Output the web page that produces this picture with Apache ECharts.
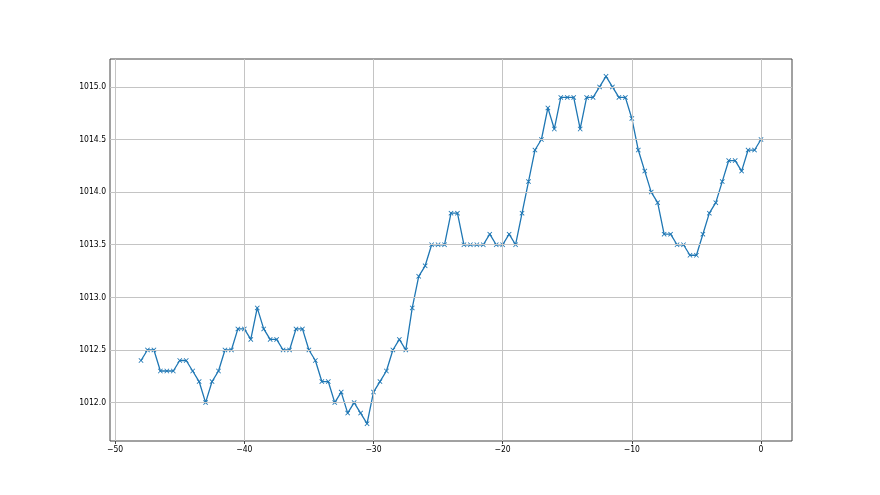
<!DOCTYPE html>
<html><head><meta charset="utf-8">
<script src="https://cdn.jsdelivr.net/npm/echarts@6/dist/echarts.min.js"></script>
<style>html,body{margin:0;padding:0;background:#fff}#c{width:880px;height:495px}</style>
</head><body><div id="c"></div>
<script>
const xStart = -48, xStep = 0.5;
const pressure = [
1012.4,1012.5,1012.5,1012.3,1012.3,1012.3,1012.4,1012.4,1012.3,1012.2,
1012.0,1012.2,1012.3,1012.5,1012.5,1012.7,1012.7,1012.6,1012.9,1012.7,
1012.6,1012.6,1012.5,1012.5,1012.7,1012.7,1012.5,1012.4,1012.2,1012.2,
1012.0,1012.1,1011.9,1012.0,1011.9,1011.8,1012.1,1012.2,1012.3,1012.5,
1012.6,1012.5,1012.9,1013.2,1013.3,1013.5,1013.5,1013.5,1013.8,1013.8,
1013.5,1013.5,1013.5,1013.5,1013.6,1013.5,1013.5,1013.6,1013.5,1013.8,
1014.1,1014.4,1014.5,1014.8,1014.6,1014.9,1014.9,1014.9,1014.6,1014.9,
1014.9,1015.0,1015.1,1015.0,1014.9,1014.9,1014.7,1014.4,1014.2,1014.0,
1013.9,1013.6,1013.6,1013.5,1013.5,1013.4,1013.4,1013.6,1013.8,1013.9,
1014.1,1014.3,1014.3,1014.2,1014.4,1014.4,1014.5];
const xTicks = [-50,-40,-30,-20,-10,0];
const yTicks = [1012.0,1012.5,1013.0,1013.5,1014.0,1014.5,1015.0];

const data = pressure.map((v,i)=>[xStart + i*xStep, v]);
const xs = data.map(d=>d[0]), ys = pressure;
const xr = Math.max(...xs)-Math.min(...xs), yr = Math.max(...ys)-Math.min(...ys);
const xMin = Math.min(...xs)-0.05*xr, xMax = Math.max(...xs)+0.05*xr;
const yMin = Math.min(...ys)-0.05*yr, yMax = Math.max(...ys)+0.05*yr;

const font = {fontFamily:'"DejaVu Sans Condensed", "DejaVu Sans"', fontSize:8.5, color:'#000'};
const chart = echarts.init(document.getElementById('c'), null, {renderer:'canvas'});
const xMark = 'path://M0,1.2L1.2,0L5,3.8L8.8,0L10,1.2L6.2,5L10,8.8L8.8,10L5,6.2L1.2,10L0,8.8L3.8,5Z';
chart.setOption({
  animation:false,
  backgroundColor:'#fff',
  grid:{left:110,right:88,top:59,bottom:54,show:true,borderColor:'#444',borderWidth:1,containLabel:false},
  xAxis:{type:'value',min:xMin,max:xMax,
    axisLine:{show:false},
    axisTick:{show:true,customValues:xTicks,length:3,lineStyle:{color:'#444'}},
    axisLabel:{customValues:xTicks,margin:4,...font,formatter:v=>String(Math.round(v)).replace('-','\u2212')},
    splitLine:{show:false}},
  yAxis:{type:'value',min:yMin,max:yMax,
    axisLine:{show:false},
    axisTick:{show:true,customValues:yTicks,length:3,lineStyle:{color:'#444'}},
    axisLabel:{customValues:yTicks,margin:4,...font,formatter:v=>v.toFixed(1)},
    splitLine:{show:false}},
  series:[
    {type:'line',data:[],silent:true,
     markLine:{silent:true,symbol:'none',label:{show:false},animation:false,
       lineStyle:{color:'#c4c4c4',width:1,type:'solid'},
       data:[...xTicks.map(v=>({xAxis:v})),...yTicks.map(v=>({yAxis:v}))]}},
    {type:'line',data:data,symbol:xMark,symbolSize:5,showSymbol:true,
     lineStyle:{color:'#1f77b4',width:1.3},itemStyle:{color:'#1f77b4'},z:3}
  ]
});
</script></body></html>
